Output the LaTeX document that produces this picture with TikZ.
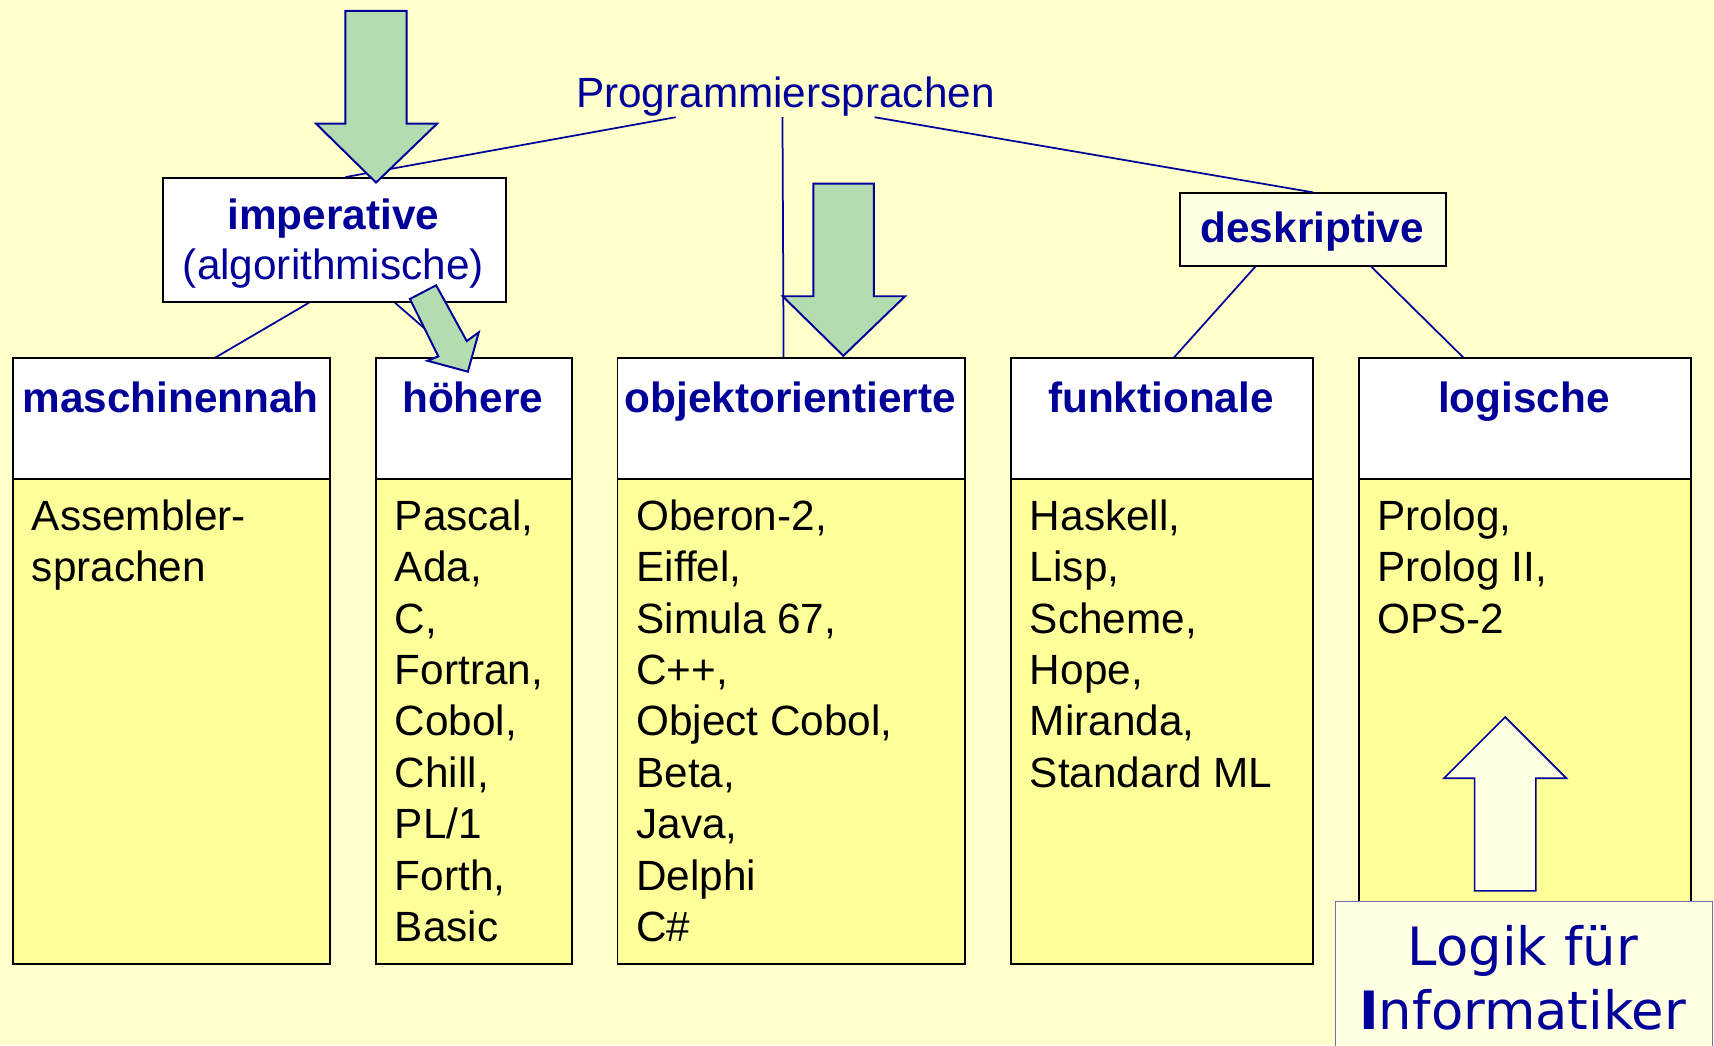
\documentclass[tikz,border=0pt]{standalone}
\usepackage{fontspec}
\setmainfont{Liberation Sans}
\newfontfamily\vfont{DejaVu Sans}
\usetikzlibrary{calc}
\definecolor{bg}{RGB}{255,255,204}
\definecolor{navy}{RGB}{0,0,153}
\definecolor{bodyyel}{RGB}{255,255,153}
\definecolor{grn}{RGB}{180,220,177}
\definecolor{pale}{RGB}{255,255,228}
\definecolor{lbord}{RGB}{110,110,175}
\begin{document}
\begin{tikzpicture}[x=1pt,y=-1pt,
  hdrbox/.style={draw=black,line width=1.8pt,fill=white,anchor=north west,inner sep=0pt,minimum height=110pt},
  bodybox/.style={draw=black,line width=1.8pt,fill=bodyyel,anchor=north west,inner sep=0pt,minimum height=444pt},
  hdrtxt/.style={text=navy,font=\fontsize{38.7pt}{47pt}\selectfont\bfseries,anchor=base,inner sep=0pt},
  regtxt/.style={text=navy,font=\fontsize{38.7pt}{47pt}\selectfont,anchor=base,inner sep=0pt},
  bodytxt/.style={text=black,font=\fontsize{38.7pt}{47pt}\selectfont,anchor=north west,inner sep=0pt,align=left},
  conn/.style={draw=navy,line width=1.6pt},
  blockarrow/.style={draw=navy,line width=1.8pt,fill=grn,line join=miter},
]
\fill[bg] (0,0) rectangle (1568,956);
\useasboundingbox (0,0) rectangle (1568,956);

% title
\node[regtxt] (prog) at (718.5,98) {Programmiersprachen};
\coordinate (pL) at ($(prog.south west)!0.238!(prog.south east)+(0,1)$);
\coordinate (pM) at ($(prog.south west)!0.493!(prog.south east)+(0,1)$);
\coordinate (pR) at ($(prog.south west)!0.713!(prog.south east)+(0,1)$);

% upper boxes
\node[draw=black,line width=1.8pt,fill=white,anchor=north west,inner sep=0pt,minimum width=314pt,minimum height=113pt] (imp) at (148,162) {};
\node[hdrtxt] (impT1) at (305,210) {imperative};
\node[regtxt] (impT2) at (305,256) {(algorithmische)};
\node[draw=black,line width=1.8pt,fill=pale,anchor=north west,inner sep=0pt,minimum width=243pt,minimum height=66pt] (desk) at (1079,176) {};
\node[hdrtxt] (deskT) at (1200.5,222) {deskriptive};

% columns: bodies
\node[bodybox,minimum width=290pt] (b1) at (11,437) {};
\node[bodybox,minimum width=179pt] (b2) at (343,437) {};
\node[bodybox,minimum width=318pt] (b3) at (564,437) {};
\node[bodybox,minimum width=276pt] (b4) at (924,437) {};
\node[bodybox,minimum width=304pt] (b5) at (1242,437) {};
% columns: headers
\node[hdrbox,minimum width=290pt] (h1) at (11,327) {};
\node[hdrbox,minimum width=179pt] (h2) at (343,327) {};
\node[hdrbox,minimum width=318pt] (h3) at (564,327) {};
\node[hdrbox,minimum width=276pt] (h4) at (924,327) {};
\node[hdrbox,minimum width=304pt] (h5) at (1242,327) {};

\node[hdrtxt] (h1t) at (156,377) {maschinennah};
\node[hdrtxt] (h2t) at (432.5,377) {höhere};
\node[hdrtxt] (h3t) at (723,377) {objektorientierte};
\node[hdrtxt] (h4t) at (1062,377) {funktionale};
\node[hdrtxt] (h5t) at (1394,377) {logische};

\node[bodytxt] (t1) at (29,455) {\rule{0pt}{30pt}Assembler-\\sprachen};
\node[bodytxt] (t2) at (361,455) {\rule{0pt}{30pt}Pascal,\\Ada,\\C,\\Fortran,\\Cobol,\\Chill,\\PL/1\\Forth,\\Basic};
\node[bodytxt] (t3) at (582,455) {\rule{0pt}{30pt}Oberon-2,\\Eiffel,\\Simula 67,\\C++,\\Object Cobol,\\Beta,\\Java,\\Delphi\\C\#};
\node[bodytxt] (t4) at (942,455) {\rule{0pt}{30pt}Haskell,\\Lisp,\\Scheme,\\Hope,\\Miranda,\\Standard ML};
\node[bodytxt] (t5) at (1260,455) {\rule{0pt}{30pt}Prolog,\\Prolog II,\\OPS-2};

% connectors
\draw[conn] (pL) -- ($(imp.north west)!0.532!(imp.north east)$);
\draw[conn] (pM) -- ($(h3.north west)!0.478!(h3.north east)$);
\draw[conn] (pR) -- (desk.north);
\draw[conn] ($(imp.south west)!0.427!(imp.south east)$) -- ($(h1.north west)!0.638!(h1.north east)$);
\draw[conn] ($(imp.south west)!0.675!(imp.south east)$) -- ($(h2.north west)!0.42!(h2.north east)$);
\draw[conn] ($(desk.south west)!0.284!(desk.south east)$) -- ($(h4.north west)!0.54!(h4.north east)$);
\draw[conn] ($(desk.south west)!0.716!(desk.south east)$) -- ($(h5.north west)!0.316!(h5.north east)$);

% block arrows
\draw[blockarrow] (316,10) -- (372,10) -- (372,113) -- (400,113) -- (344,167) -- (289,113) -- (316,113) -- cycle;
\draw[blockarrow] (744,168) -- (799.5,168) -- (799.5,271) -- (828,271) -- (771.5,325.5) -- (716,271) -- (744,271) -- cycle;
\draw[blockarrow] (375,273.5) -- (399,261) -- (427,312) -- (438,304) -- (428,340) -- (391,330) -- (401,326) -- cycle;

% Logik box
\draw[draw=navy,line width=1.5pt,fill=pale,line join=miter] (1377,656) -- (1433,712) -- (1405,712) -- (1405,815) -- (1349,815) -- (1349,712) -- (1321,712) -- cycle;
\node[draw=lbord,line width=1.2pt,fill=pale,anchor=north west,inner sep=0pt,minimum width=345pt,minimum height=160pt] (logik) at (1221,824) {};
\node[text=navy,font=\vfont\fontsize{48.3pt}{59pt}\selectfont,align=center,anchor=north,inner sep=0pt] (logikT) at (1393,845) {\rule{0pt}{38pt}Logik für\\{\bfseries I}nformatiker};
\end{tikzpicture}
\end{document}
